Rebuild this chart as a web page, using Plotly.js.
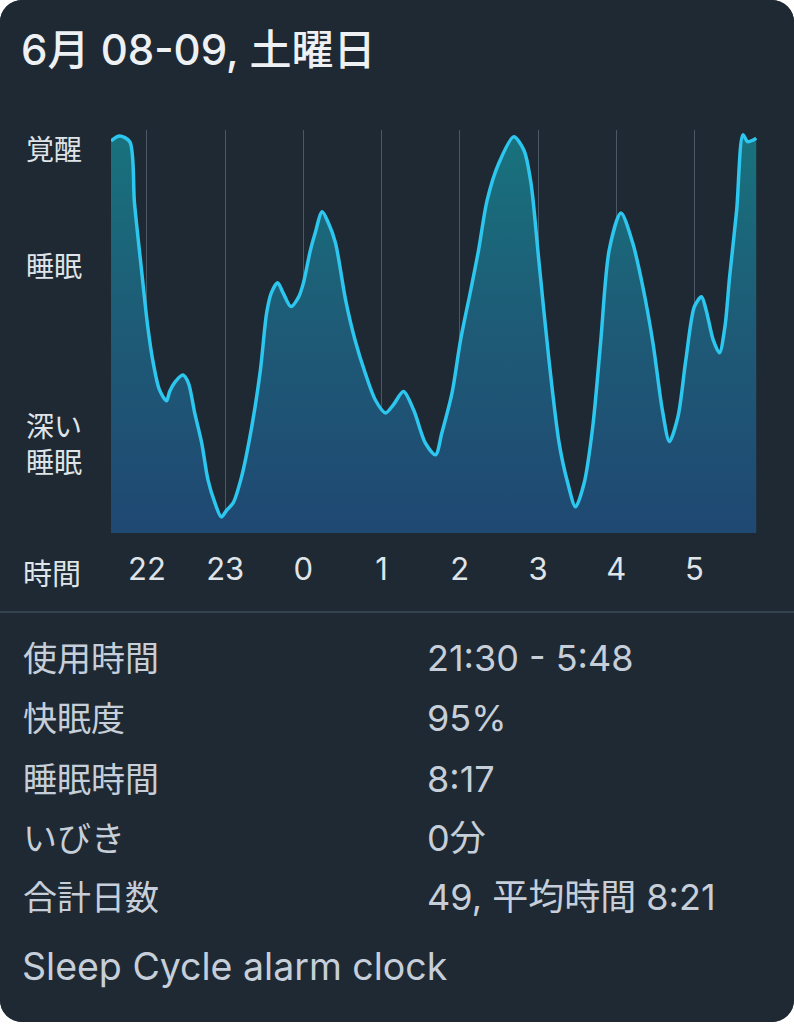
<!DOCTYPE html>
<html>
<head>
<meta charset="utf-8">
<script src="https://cdn.plot.ly/plotly-3.0.1.min.js"></script>
<style>
  html, body { margin: 0; padding: 0; background: #ffffff; }
  #card { width: 794px; height: 1022px; border-radius: 22px; overflow: hidden; background: #1f2933; }
</style>
</head>
<body>
<div id="card"><div id="chart"></div></div>
<script>
// sleep curve: hour (22 = 22:00, 24 = 0:00 ...) and depth level (0 deep .. 100 awake)
var hours = [21.54, 21.65, 21.78, 21.84, 21.93, 22.01, 22.08, 22.16, 22.25, 22.29, 22.36, 22.46, 22.53,
  22.61, 22.70, 22.78, 22.87, 22.95, 23.02, 23.10, 23.21, 23.34, 23.45, 23.53, 23.59, 23.67, 23.74,
  23.84, 23.94, 24.00, 24.09, 24.15, 24.24, 24.32, 24.41, 24.54, 24.66, 24.79, 24.92, 25.05, 25.15,
  25.28, 25.41, 25.56, 25.69, 25.77, 25.90, 26.01, 26.14, 26.24, 26.35, 26.50, 26.69, 26.82, 26.91,
  27.01, 27.14, 27.27, 27.38, 27.48, 27.59, 27.70, 27.80, 27.91, 28.06, 28.21, 28.34, 28.47, 28.59,
  28.68, 28.79, 28.89, 29.00, 29.09, 29.15, 29.24, 29.32, 29.39, 29.45, 29.54, 29.62, 29.68, 29.75, 29.79];
var level = [97.3, 98.5, 97.1, 81.9, 65.3, 51.2, 42.2, 35.5, 32.8, 35.1, 37.5, 39.2, 37.2,
  29.8, 22.3, 13.2, 7.4, 4.0, 5.7, 7.4, 14.0, 26.4, 40.4, 54.6, 59.6, 62.1, 59.6,
  56.2, 58.6, 62.0, 70.2, 74.4, 79.7, 76.9, 72.0, 57.8, 47.9, 39.7, 33.0, 29.8, 31.8,
  35.1, 30.5, 22.3, 19.4, 24.8, 34.7, 47.9, 60.3, 70.2, 82.6, 91.8, 98.3, 95.0, 86.8,
  67.7, 42.9, 22.3, 12.4, 6.5, 12.4, 26.4, 47.1, 70.2, 79.4, 72.0, 61.1, 47.1, 30.5,
  22.7, 28.9, 42.9, 56.2, 58.6, 55.3, 47.9, 44.7, 51.2, 63.6, 80.1, 98.8, 97.1, 97.5, 98.0];

var hourTicks = [22, 23, 24, 25, 26, 27, 28, 29];
var hourLabels = ['22', '23', '0', '1', '2', '3', '4', '5'];
var stageTicks = [95, 66, 21.8];
var stageLabels = ['覚醒', '睡眠', '深い<br>睡眠'];

var statLabels = ['使用時間', '快眠度', '睡眠時間', 'いびき', '合計日数'];
var statValues = ['21:30 - 5:48', '95%', '8:17', '0分', '49, 平均時間 8:21'];

var W = 794, H = 1022;
var PL = 111, PR = 757, PT = 130, PB = 533;
function px(x) { return (x - PL) / (PR - PL); }
function py(y) { return (PB - y) / (PB - PT); }

var font = 'Inter, "Noto Sans CJK JP", sans-serif';

var trace = {
  x: hours, y: level,
  type: 'scatter', mode: 'lines',
  line: { shape: 'spline', smoothing: 0.8, color: '#2cc6ef', width: 3.5 },
  fill: 'tozeroy',
  fillgradient: { type: 'vertical', colorscale: [[0, '#1f4872'], [0.5, '#1e5a76'], [1, '#18727d']] },
  hoverinfo: 'skip'
};

var annotations = [];
annotations.push({ text: '時間', xref: 'paper', yref: 'paper', x: px(21), y: py(574),
  xanchor: 'left', yanchor: 'middle', showarrow: false, font: { family: font, size: 29, color: '#dfe4e9' } });
statLabels.forEach(function (s, i) {
  var yy = [658, 718, 779, 838, 897][i];
  annotations.push({ text: s, xref: 'paper', yref: 'paper', x: px(21), y: py(yy),
    xanchor: 'left', yanchor: 'middle', showarrow: false, font: { family: font, size: 34, color: '#c6cfd9' } });
  annotations.push({ text: statValues[i], xref: 'paper', yref: 'paper', x: px(425), y: py(yy),
    xanchor: 'left', yanchor: 'middle', showarrow: false, font: { family: font, size: 36, color: '#c6cfd9' } });
});
annotations.push({ text: 'Sleep Cycle alarm clock', xref: 'paper', yref: 'paper', x: px(20), y: py(967),
  xanchor: 'left', yanchor: 'middle', showarrow: false, font: { family: font, size: 37.5, color: '#c6cfd9' } });

var layout = {
  width: W, height: H,
  paper_bgcolor: '#1f2933', plot_bgcolor: '#1f2933',
  margin: { l: PL, r: W - PR, t: PT, b: H - PB, pad: 0 },
  showlegend: false,
  title: {
    text: '6月 08-09, 土曜日',
    x: 21 / W, xanchor: 'left', xref: 'container',
    y: 1 - 50 / H, yanchor: 'middle', yref: 'container',
    font: { family: font, size: 42, color: '#eef1f4', weight: 500 }
  },
  xaxis: {
    range: [21.54, 29.8], fixedrange: true,
    tickvals: hourTicks, ticktext: hourLabels,
    showgrid: true, gridcolor: '#4a5765', gridwidth: 1,
    zeroline: false, showline: false, ticks: '',
    ticklabelstandoff: 15,
    tickfont: { family: font, size: 31, color: '#dfe4e9' }
  },
  yaxis: {
    range: [0, 100], fixedrange: true,
    tickvals: stageTicks, ticktext: stageLabels,
    showgrid: false, zeroline: false, showline: false, ticks: '',
    ticklabelstandoff: 28,
    tickfont: { family: font, size: 28, color: '#dfe4e9' }
  },
  shapes: [{
    type: 'line', xref: 'paper', yref: 'paper',
    x0: px(0), x1: px(W), y0: py(612), y1: py(612),
    line: { color: '#3e4c59', width: 1.5 }
  }],
  annotations: annotations
};

Plotly.newPlot('chart', [trace], layout, { displayModeBar: false, staticPlot: true });
</script>
</body>
</html>
